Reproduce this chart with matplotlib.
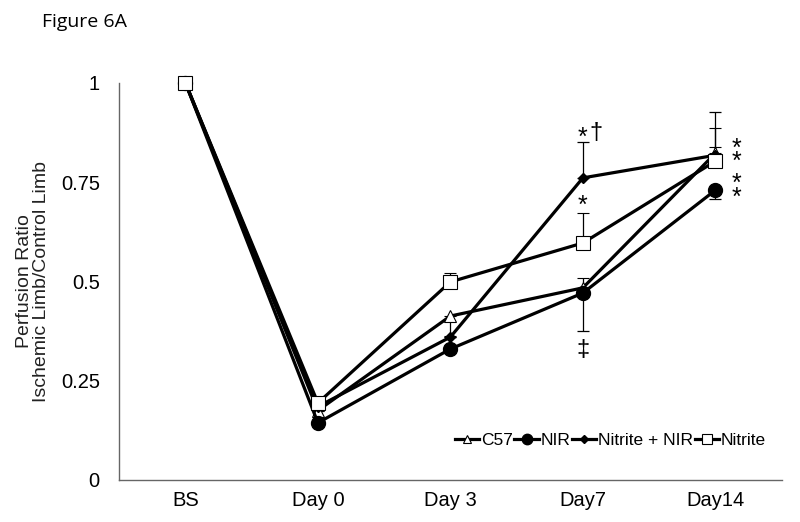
import numpy as np
import matplotlib.pyplot as plt
from matplotlib.lines import Line2D

plt.rcParams['font.family'] = ['Liberation Sans', 'DejaVu Sans']

days = ['BS', 'Day 0', 'Day 3', 'Day7', 'Day14']

c57 = [1.0, 0.175, 0.413, 0.484, 0.823]
c57_lo = [0, 0, 0.05, 0, 0]
c57_hi = [0, 0, 0, 0.025, 0.016]

nir = [1.0, 0.144, 0.330, 0.471, 0.730]
nir_lo = [0, 0, 0, 0.096, 0.022]
nir_hi = [0, 0, 0, 0, 0]

nitrite_nir = [1.0, 0.185, 0.360, 0.761, 0.818]
nitrite_nir_lo = [0, 0, 0, 0, 0]
nitrite_nir_hi = [0, 0, 0, 0.09, 0.11]

nitrite = [1.0, 0.194, 0.499, 0.597, 0.803]
nitrite_lo = [0, 0, 0, 0, 0]
nitrite_hi = [0, 0, 0.022, 0.076, 0.084]

fig = plt.figure(figsize=(8, 5.22), dpi=100)
ax = fig.add_axes([0.149, 0.0805, 0.828, 0.7605])
x = np.arange(len(days))

series = [
    ('C57', c57, c57_lo, c57_hi, dict(marker='^', ms=8, mfc='white', mec='black', mew=0.8)),
    ('NIR', nir, nir_lo, nir_hi, dict(marker='o', ms=10, mfc='black', mec='black')),
    ('Nitrite + NIR', nitrite_nir, nitrite_nir_lo, nitrite_nir_hi, dict(marker='D', ms=5.5, mfc='black', mec='black')),
    ('Nitrite', nitrite, nitrite_lo, nitrite_hi, dict(marker='s', ms=10, mfc='white', mec='black', mew=0.8)),
]
handles = []
for name, vals, lo, hi, st in series:
    ax.errorbar(x, vals, yerr=[lo, hi], color='black', lw=2.3, elinewidth=0.9,
                capsize=4, capthick=0.9, clip_on=False, **st)
    hst = dict(st)
    hst['ms'] = st['ms'] * 0.75
    handles.append(Line2D([], [], color='black', lw=2.3, label=name, **hst))

ax.set_xlim(-0.5, 4.5)
ax.set_ylim(0, 1)
ax.set_xticks(x)
ax.set_xticklabels(days, fontsize=14.5)
ax.set_yticks([0, 0.25, 0.5, 0.75, 1])
ax.set_yticklabels(['0', '0.25', '0.5', '0.75', '1'], fontsize=14.5)
ax.tick_params(axis='x', length=0, pad=8)
ax.tick_params(axis='y', length=0, pad=14)
for s in ['top', 'right']:
    ax.spines[s].set_visible(False)
for s in ['left', 'bottom']:
    ax.spines[s].set_color('#666666')
    ax.spines[s].set_linewidth(1)

ax.set_ylabel('Perfusion Ratio\nIschemic Limb/Control Limb', fontsize=14, linespacing=1.0,
              color='#222222')
ax.yaxis.set_label_coords(-0.105, 0.5)

# significance marks
ax.text(3.0, 0.862, '*', fontsize=18, ha='center', va='center')
ax.text(3.1, 0.874, '\u2020', fontsize=17, ha='center', va='center')
ax.text(3.0, 0.69, '*', fontsize=18, ha='center', va='center')
ax.text(3.0, 0.327, '\u2021', fontsize=17, ha='center', va='center')
ax.text(4.16, 0.818, '*\n*', fontsize=18, ha='center', va='center', linespacing=0.42)
ax.text(4.16, 0.728, '*\n*', fontsize=18, ha='center', va='center', linespacing=0.45)

ax.legend(handles=handles, loc='center right', bbox_to_anchor=(1.0, 0.1), ncol=4, frameon=False,
          fontsize=12.5, handlelength=1.4, handletextpad=0.1, columnspacing=0.1)

fig.text(0.052, 0.957, 'Figure 6A', fontsize=14, family='Open Sans', va='center')

fig.savefig('out.png', dpi=100)
